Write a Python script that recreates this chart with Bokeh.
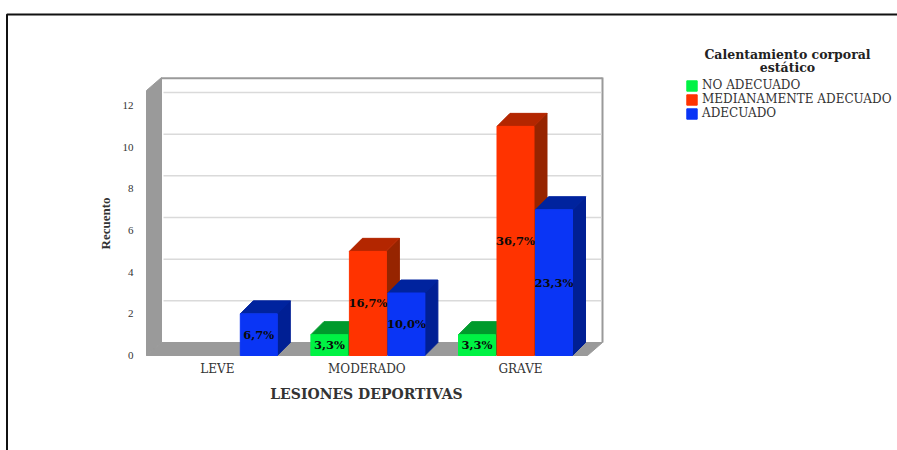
from bokeh.embed import file_html
from bokeh.models import BoxAnnotation, FixedTicker, Label, Legend, LegendItem, Range1d
from bokeh.plotting import figure
from bokeh.resources import INLINE

categories = ["LEVE", "MODERADO", "GRAVE"]
series_names = ["NO ADECUADO", "MEDIANAMENTE ADECUADO", "ADECUADO"]
no_adecuado = [0, 1, 1]
medianamente = [0, 5, 11]
adecuado = [2, 3, 7]
pct_no_adecuado = ["", "3,3%", "3,3%"]
pct_medianamente = ["", "16,7%", "36,7%"]
pct_adecuado = ["6,7%", "10,0%", "23,3%"]
y_ticks = [0, 2, 4, 6, 8, 10, 12]

front = ["#00F244", "#FF3300", "#0A35F5"]
top = ["#009A2C", "#B32600", "#00239E"]
side = ["#007F24", "#962400", "#001F94"]
WALL = "#9A9A9A"
SERIF = "Liberation Serif"
WIDE_SERIF = "DejaVu Serif"

# Pixel scale of the box: one category is 147.6 px wide, one count is 20.83 px tall.
LEFT, BASE, TOP_PX = 146, 355, 77
XU, YU = 147.6, 20.83
DX, DY = 15 / XU, 13 / YU
BAR_DX = 13 / XU
BAR_W = 37 / XU
BAR_GAP = 1.5 / XU
W, H = 897, 450


def px(x):
    return (x - LEFT) / XU


def py(y):
    return (BASE - y) / YU


# The frame fills the page, so axes and annotations can sit anywhere on it.
p = figure(
    width=W, height=H,
    min_border=0, min_border_left=0, min_border_right=0, min_border_top=0, min_border_bottom=0,
    x_range=Range1d(px(0), px(W)), y_range=Range1d(py(H), py(0)),
    output_backend="svg", toolbar_location=None,
    background_fill_color="white", border_fill_color="white",
)
p.outline_line_color = None
p.grid.visible = False

# Page frame round the chart
p.add_layout(BoxAnnotation(left=px(6.5), right=px(960), bottom=py(520), top=py(14),
                           fill_alpha=0, line_color="#111111", line_alpha=1, line_width=2,
                           level="underlay"))

# Walls and floor of the 3D box
x_end = px(587)
wall_top = py(TOP_PX) - DY
p.patch([0, DX, DX, 0], [0, DY, py(TOP_PX), wall_top], fill_color=WALL, line_color=WALL)
p.patch([0, DX, x_end + DX, x_end], [0, DY, DY, 0], fill_color=WALL, line_color=WALL)
p.segment(x0=[DX], y0=[py(TOP_PX) - 0.04], x1=[x_end + DX], y1=[py(TOP_PX) - 0.04],
          line_color=WALL, line_width=2)
p.segment(x0=[x_end + DX], y0=[DY], x1=[x_end + DX], y1=[py(TOP_PX)],
          line_color=WALL, line_width=2)
for t in y_ticks[1:]:
    p.segment(x0=[DX + 2 / XU], y0=[t + DY], x1=[x_end + DX - 1 / XU], y1=[t + DY],
              line_color="#DADADA", line_width=1.5)

# Bars: side and top faces first, then the front face, series by series in each category
values = [no_adecuado, medianamente, adecuado]
pcts = [pct_no_adecuado, pct_medianamente, pct_adecuado]
swatches = [None, None, None]
for c in range(len(categories)):
    for s in range(len(series_names)):
        v = values[s][c]
        if v <= 0:
            continue
        x0 = c + 0.5 + (s - 1.5) * (BAR_W + BAR_GAP) + BAR_GAP / 2
        x1 = x0 + BAR_W
        p.patch([x1, x1 + BAR_DX, x1 + BAR_DX, x1], [0, DY, v + DY, v],
                fill_color=side[s], line_color=side[s])
        p.patch([x0, x1, x1 + BAR_DX, x0 + BAR_DX], [v, v, v + DY, v + DY],
                fill_color=top[s], line_color=top[s])
        r = p.quad(left=[x0], right=[x1], bottom=[0], top=[v], fill_color=front[s], line_color=front[s])
        if swatches[s] is None:
            swatches[s] = r
        p.add_layout(Label(x=(x0 + x1) / 2, y=v / 2, text=pcts[s][c], text_align="center",
                           text_baseline="middle", text_font=WIDE_SERIF, text_font_style="bold",
                           text_font_size="11.5px", text_color="#0A0A0A", level="overlay"))

# Axes, pinned to the corner of the box
p.yaxis.fixed_location = 0
p.yaxis.ticker = FixedTicker(ticks=y_ticks)
p.yaxis.axis_line_color = None
p.yaxis.major_tick_line_color = None
p.yaxis.minor_tick_line_color = None
p.yaxis.major_label_standoff = 7
p.yaxis.major_label_text_font = SERIF
p.yaxis.major_label_text_font_size = "11px"
p.yaxis.major_label_text_color = "#333333"

tick_positions = [0.48, 1.493, 2.534]
p.xaxis.fixed_location = 0
p.xaxis.ticker = FixedTicker(ticks=tick_positions)
p.xaxis.major_label_overrides = dict(zip(tick_positions, categories))
p.xaxis.axis_line_color = None
p.xaxis.major_tick_line_color = None
p.xaxis.minor_tick_line_color = None
p.xaxis.major_label_standoff = 0
p.xaxis.major_label_text_font = WIDE_SERIF
p.xaxis.major_label_text_font_size = "12px"
p.xaxis.major_label_text_color = "#333333"

p.add_layout(Label(x=px(366), y=py(393), text="LESIONES DEPORTIVAS", text_align="center",
                   text_baseline="middle", text_font=WIDE_SERIF, text_font_style="bold",
                   text_font_size="14px", text_color="#333333"))
p.add_layout(Label(x=px(105), y=py(223), text="Recuento", text_align="center", angle=90,
                   angle_units="deg", text_baseline="middle", text_font=SERIF,
                   text_font_size="13px", text_font_style="bold", text_color="#333333"))

# Legend with its two-line heading
for line, y in (("Calentamiento corporal", 54), ("estático", 67)):
    p.add_layout(Label(x=px(787), y=py(y), text=line, text_align="center", text_baseline="middle",
                       text_font=WIDE_SERIF, text_font_style="bold", text_font_size="12.5px",
                       text_color="#222222"))

legend = Legend(
    items=[LegendItem(label=n, renderers=[r]) for n, r in zip(series_names, swatches)],
    location=(685, H - 120), orientation="vertical",
    background_fill_alpha=0, border_line_color=None,
    margin=0, padding=0, spacing=0, glyph_width=13, glyph_height=13, label_height=13,
    label_standoff=4, label_text_font=WIDE_SERIF, label_text_font_size="12px",
    label_text_color="#333333", label_text_baseline="middle",
)
p.add_layout(legend, "center")

open("out.html", "w").write(file_html(p, INLINE))
